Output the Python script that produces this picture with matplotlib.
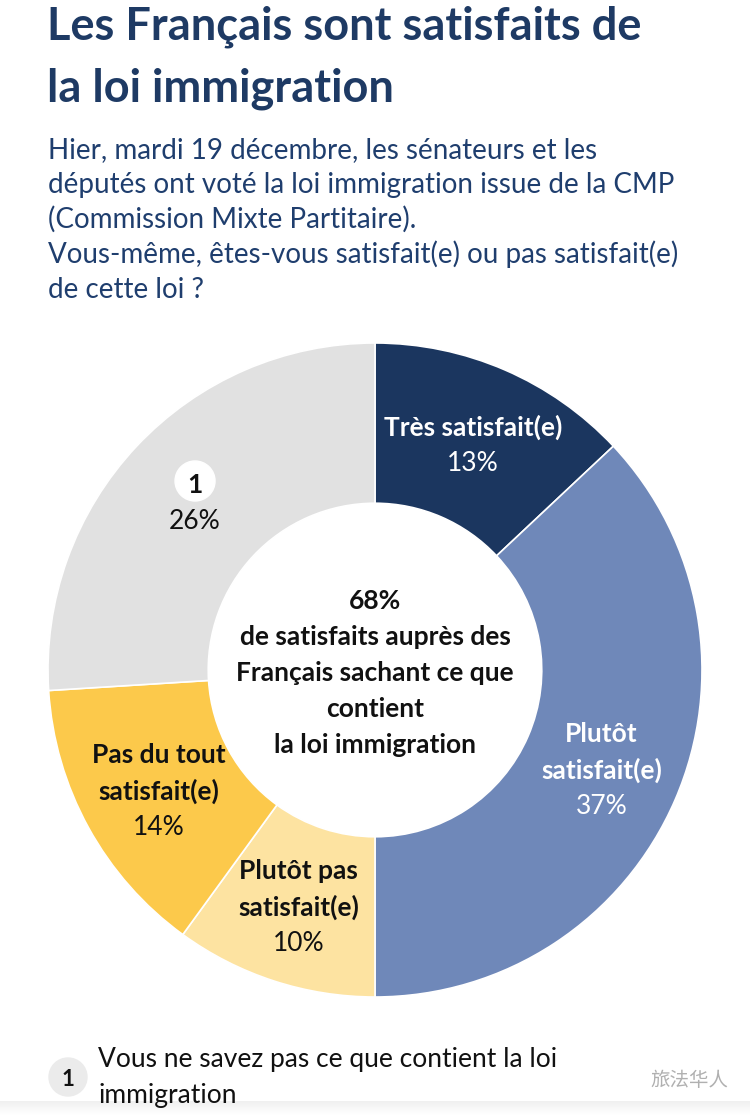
import matplotlib.pyplot as plt
import numpy as np
from matplotlib.patches import Circle

categories = ['Très satisfait(e)', 'Plutôt\nsatisfait(e)', 'Plutôt pas\nsatisfait(e)',
              'Pas du tout\nsatisfait(e)', '1']
values = [13, 37, 10, 14, 26]
colors = ['#1b365f', '#6f88b9', '#fde3a1', '#fcc94b', '#e1e1e1']
text_colors = ['white', 'white', '#111111', '#111111', '#111111']

title = ['Les Français sont satisfaits de', 'la loi immigration']
subtitle = ['Hier, mardi 19 décembre, les sénateurs et les',
            'députés ont voté la loi immigration issue de la CMP',
            '(Commission Mixte Partitaire).',
            'Vous-même, êtes-vous satisfait(e) ou pas satisfait(e)',
            'de cette loi ?']
center_text = ['68%', 'de satisfaits auprès des', 'Français sachant ce que',
               'contient', 'la loi immigration']
note = ['Vous ne savez pas ce que contient la loi', 'immigration']

plt.rcParams['font.family'] = ['Lato', 'DejaVu Sans']

W, H = 750, 1115
fig = plt.figure(figsize=(W / 100, H / 100), dpi=100)
ax = fig.add_axes([0, 0, 1, 1])

def Y(y):
    return H - y

navy = '#1e3a64'
cx, cy, R = 375, Y(670), 327
width = 0.49
step = 36  # line step in pixels

wedges, _ = ax.pie(values, colors=colors, startangle=90, counterclock=False,
                   center=(cx, cy), radius=R,
                   wedgeprops=dict(width=R * width, edgecolor='white', linewidth=1.2))
ax.set_xlim(0, W)
ax.set_ylim(0, H)
ax.set_aspect('equal')
ax.axis('off')


def stack(x, y, lines, weights, color, size=19):
    n = len(lines)
    for i, (t, fw) in enumerate(zip(lines, weights)):
        yy = y + ((n - 1) / 2 - i) * step
        ax.text(x, yy, t, ha='center', va='center_baseline', fontsize=size,
                fontweight=fw, color=color, zorder=4)


# slice labels at the middle of the ring
rl = R * (1 - width / 2)
for w, cat, v, tc in zip(wedges, categories, values, text_colors):
    ang = np.deg2rad((w.theta1 + w.theta2) / 2)
    x = cx + rl * np.cos(ang)
    y = cy + rl * np.sin(ang)
    if cat == '1':
        ax.add_patch(Circle((x, y + 20), 20, color='white', zorder=3))
    lines = cat.split('\n') + [f'{v}%']
    weights = ['bold'] * (len(lines) - 1) + ['normal']
    stack(x, y, lines, weights, tc)

stack(cx, Y(671), center_text, ['bold'] * 5, '#111111')

for i, t in enumerate(title):
    ax.text(47, Y(40 + 61 * i), t, ha='left', va='baseline', fontsize=32.5,
            fontweight='bold', color=navy)
for i, t in enumerate(subtitle):
    ax.text(48, Y(158 + 35 * i), t, ha='left', va='baseline', fontsize=20,
            color='#1f3e6e')

# footnote
ax.add_patch(Circle((68, Y(1077)), 19, color='#ebebeb', zorder=3))
ax.text(68, Y(1077), '1', ha='center', va='center_baseline', fontsize=16,
        fontweight='bold', color='#111111', zorder=4)
for i, t in enumerate(note):
    ax.text(98, Y(1057 + 36 * i), t, ha='left', va='center_baseline',
            fontsize=19, color='#111111')
ax.text(728, Y(1081), '旅法华人', ha='right', va='center', fontsize=14,
        color='#b0b0b0', family=['Noto Sans CJK SC', 'DejaVu Sans'])

# faint shadow at the bottom edge
grad = np.linspace(1, 0, 20).reshape(-1, 1)
ax.imshow(grad, extent=(0, W, 0, 14), cmap='Greys', vmin=0, vmax=8,
          aspect='auto', zorder=0)

fig.savefig('out.png', dpi=100)
